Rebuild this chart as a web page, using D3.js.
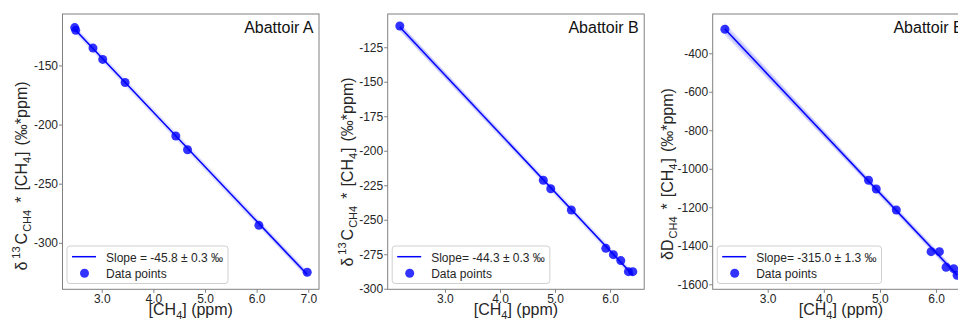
<!DOCTYPE html>
<html>
<head>
<meta charset="utf-8">
<script src="https://cdn.jsdelivr.net/npm/d3@7"></script>
<style>
  html, body { margin: 0; padding: 0; background: #fff; }
  svg { display: block; font-family: "Liberation Sans", Arial, sans-serif; }
</style>
</head>
<body>
<svg id="chart" width="958" height="322"></svg>
<script>
// ---- data ----
const panelTitles = ["Abattoir A", "Abattoir B", "Abattoir B"];
const slopeLabels = ["Slope = -45.8 ± 0.3 ‰", "Slope= -44.3 ± 0.3 ‰", "Slope= -315.0 ± 1.3 ‰"];
const pointsLabel = "Data points";

const xA = [2.477, 2.496, 2.831, 3.019, 3.452, 4.434, 4.661, 6.043, 6.979];
const yA = [-118.0, -120.3, -135.3, -144.9, -164.4, -209.7, -221.3, -285.2, -324.9];

const xB = [2.18, 4.787, 4.922, 5.296, 5.922, 6.06, 6.195, 6.333, 6.413];
const yB = [-109.6, -221.4, -227.5, -242.9, -270.7, -275.3, -279.6, -287.6, -287.6];

const xC = [2.237, 4.797, 4.934, 5.291, 5.911, 6.059, 6.178, 6.314, 6.375];
const yC = [-275.3, -1059.7, -1104.9, -1214.0, -1430.6, -1430.6, -1511.7, -1518.9, -1553.0];

const xTicksA = [3, 4, 5, 6, 7];
const xTicksB = [3, 4, 5, 6];
const xTicksC = [3, 4, 5, 6];
const yTicksA = [-150, -200, -250, -300];
const yTicksB = [-125, -150, -175, -200, -225, -250, -275, -300];
const yTicksC = [-400, -600, -800, -1000, -1200, -1400, -1600];

const xDomains = [[2.24, 7.207], [1.96, 6.62], [2.02, 6.59]];
const yDomains = [[-339.3, -106.5], [-300.4, -100.9], [-1626, -196]];
const yLabelKinds = ["C13", "C13", "D"];

// ---- layout ----
const svg = d3.select("#chart");
const panelLefts = [62.5, 387.7, 712.7];
const panelW = 256.5, plotTop = 14, plotBottom = 289.3;
const ylabOffsets = [-35.5, -35, -40];
const ylabCenters = [176, 172, 174];
const frameColor = "#808080";
const textColor = "#262626";
const blue = "#0000ff";

const datasets = [
  {x: xA, y: yA, xt: xTicksA, yt: yTicksA},
  {x: xB, y: yB, xt: xTicksB, yt: yTicksB},
  {x: xC, y: yC, xt: xTicksC, yt: yTicksC}
];

function regress(xs, ys) {
  const n = xs.length;
  const mx = d3.mean(xs), my = d3.mean(ys);
  let sxx = 0, sxy = 0;
  for (let i = 0; i < n; i++) { sxx += (xs[i]-mx)**2; sxy += (xs[i]-mx)*(ys[i]-my); }
  const b = sxy / sxx, a = my - b * mx;
  let sse = 0;
  for (let i = 0; i < n; i++) sse += (ys[i] - (a + b*xs[i]))**2;
  const s = Math.sqrt(sse / (n - 2));
  return {a, b, mx, sxx, s, n};
}

datasets.forEach((ds, i) => {
  const L = panelLefts[i], R = L + panelW;
  const x = d3.scaleLinear().domain(xDomains[i]).range([L, R]);
  const y = d3.scaleLinear().domain(yDomains[i]).range([plotBottom, plotTop]);
  const g = svg.append("g");

  const clipId = "clip" + i;
  svg.append("clipPath").attr("id", clipId)
    .append("rect").attr("x", L).attr("y", plotTop).attr("width", panelW).attr("height", plotBottom - plotTop);
  const plot = g.append("g").attr("clip-path", `url(#${clipId})`);

  // regression + 95% confidence band
  const r = regress(ds.x, ds.y);
  const x0 = d3.min(ds.x), x1 = d3.max(ds.x);
  const grid = d3.range(0, 101).map(k => x0 + (x1 - x0) * k / 100);
  const tval = 2.365;
  const band = grid.map(xv => {
    const yh = r.a + r.b * xv;
    const se = r.s * Math.sqrt(1 / r.n + (xv - r.mx) ** 2 / r.sxx);
    return {x: xv, lo: yh - tval * se, hi: yh + tval * se};
  });
  plot.append("path")
    .attr("d", d3.area().x(d => x(d.x)).y0(d => y(d.lo)).y1(d => y(d.hi))(band))
    .attr("fill", blue).attr("fill-opacity", 0.12);
  plot.append("line")
    .attr("x1", x(x0)).attr("y1", y(r.a + r.b * x0))
    .attr("x2", x(x1)).attr("y2", y(r.a + r.b * x1))
    .attr("stroke", blue).attr("stroke-opacity", 0.12).attr("stroke-width", 5);
  plot.append("line")
    .attr("x1", x(x0)).attr("y1", y(r.a + r.b * x0))
    .attr("x2", x(x1)).attr("y2", y(r.a + r.b * x1))
    .attr("stroke", blue).attr("stroke-width", 1.5);

  // points
  plot.selectAll("circle.pt").data(ds.x.map((v, k) => [v, ds.y[k]])).join("circle")
    .attr("class", "pt")
    .attr("cx", d => x(d[0])).attr("cy", d => y(d[1])).attr("r", 4.5)
    .attr("fill", blue).attr("fill-opacity", 0.8);

  // frame
  g.append("rect").attr("x", L).attr("y", plotTop).attr("width", panelW).attr("height", plotBottom - plotTop)
    .attr("fill", "none").attr("stroke", frameColor).attr("stroke-width", 1);

  // axes
  const yAxis = d3.axisLeft(y).tickValues(ds.yt).tickFormat(d3.format("d")).tickSize(3.5).tickPadding(1);
  const yg = g.append("g").attr("transform", `translate(${L},0)`).call(yAxis);
  const xAxis = d3.axisBottom(x).tickValues(ds.xt).tickFormat(d3.format(".1f")).tickSize(3.5).tickPadding(2);
  const xg = g.append("g").attr("transform", `translate(0,${plotBottom})`).call(xAxis);
  [yg, xg].forEach(ax => {
    ax.select(".domain").remove();
    ax.selectAll(".tick line").attr("stroke", frameColor);
    ax.selectAll(".tick text").attr("fill", textColor).attr("font-size", 12)
      .attr("font-family", "Liberation Sans, Arial, sans-serif");
  });
  yg.selectAll(".tick text").text(d => String(d));
  xg.selectAll(".tick text").text(d => d3.format(".1f")(d));

  // title
  g.append("text").attr("x", R - 5.5).attr("y", 33).attr("text-anchor", "end")
    .attr("font-size", 16).attr("fill", "#111").text(panelTitles[i]);

  // x label
  const xl = g.append("text").attr("x", (L + R) / 2).attr("y", 315).attr("text-anchor", "middle")
    .attr("font-size", 16).attr("fill", textColor);
  xl.append("tspan").text("[CH");
  xl.append("tspan").attr("font-size", 11).attr("dy", 4).text("4");
  xl.append("tspan").attr("dy", -4).text("] (ppm)");

  // y label
  const yl = g.append("text").attr("transform", `translate(${L + ylabOffsets[i]},${ylabCenters[i]}) rotate(-90)`)
    .attr("text-anchor", "middle").attr("font-size", 16).attr("fill", textColor);
  if (yLabelKinds[i] === "C13") {
    yl.append("tspan").text("δ");
    yl.append("tspan").attr("font-size", 11).attr("dx", 3).attr("dy", -7).text("13");
    yl.append("tspan").attr("dx", 2).attr("dy", 7).text("C");
  } else {
    yl.append("tspan").text("δD");
  }
  yl.append("tspan").attr("font-size", 11).attr("dx", 1).attr("dy", 4).text("CH4");
  yl.append("tspan").attr("dx", 7).attr("dy", -4).text("*");
  yl.append("tspan").attr("dx", 6).text("[CH");
  yl.append("tspan").attr("font-size", 11).attr("dy", 4).text("4");
  yl.append("tspan").attr("dx", 1).attr("dy", -4).text("]");
  yl.append("tspan").attr("dx", 6).text("(‰*ppm)");

  // legend
  const lg = g.append("g");
  const lx = L + 4.5;
  const box = lg.append("rect").attr("x", lx).attr("y", 246).attr("height", 37.5)
    .attr("rx", 3).attr("fill", "#fff").attr("fill-opacity", 0.8)
    .attr("stroke", "#d0d0d0").attr("stroke-width", 1);
  lg.append("line").attr("x1", lx + 5).attr("x2", lx + 29).attr("y1", 256.7).attr("y2", 256.7)
    .attr("stroke", blue).attr("stroke-width", 1.5);
  lg.append("circle").attr("cx", lx + 17.5).attr("cy", 273.3).attr("r", 4.5)
    .attr("fill", blue).attr("fill-opacity", 0.8);
  const t1 = lg.append("text").attr("x", lx + 39).attr("y", 261.5).attr("font-size", 12)
    .attr("fill", textColor).text(slopeLabels[i]);
  lg.append("text").attr("x", lx + 39).attr("y", 278).attr("font-size", 12)
    .attr("fill", textColor).text(pointsLabel);
  const w = t1.node().getComputedTextLength();
  box.attr("width", 39 + w + 5);
});
</script>
</body>
</html>
